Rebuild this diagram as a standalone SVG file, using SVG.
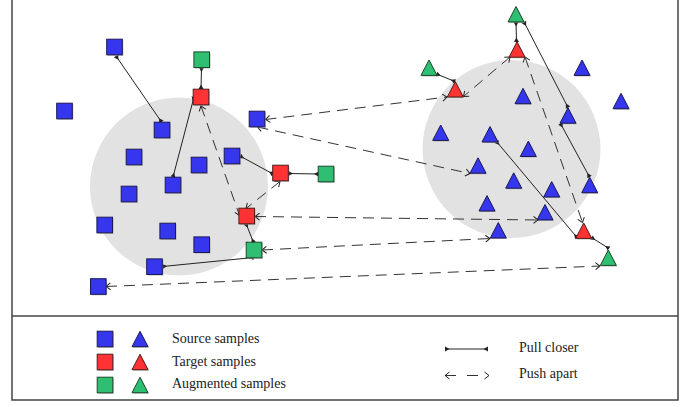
<svg xmlns="http://www.w3.org/2000/svg" xmlns:xlink="http://www.w3.org/1999/xlink" width="697" height="407" viewBox="0 0 697 407">
<style>
.frame{stroke:#444;stroke-width:1.5;fill:none}
.blob{fill:#e2e2e2}
.blue{fill:#3636ee;stroke:#1a1a55;stroke-width:1}
.red{fill:#ff3333;stroke:#551a1a;stroke-width:1}
.green{fill:#2fbf72;stroke:#1a4a2a;stroke-width:1}
.shadow{fill:#9a9a9a;opacity:0.7}
.pull{stroke:#222;stroke-width:1;fill:none;marker-start:url(#mpull);marker-end:url(#mpull)}
.push{stroke:#333;stroke-width:1;fill:none;stroke-dasharray:11 7;marker-start:url(#mpush);marker-end:url(#mpush)}
text{font-family:"Liberation Serif","Times New Roman",serif;font-size:14px;fill:#222}
</style>
<defs>
<marker id="mpull" markerUnits="userSpaceOnUse" markerWidth="10" markerHeight="10" viewBox="-6 -5 10 10" refX="0" refY="0" orient="auto-start-reverse" overflow="visible">
<path d="M0,-2.5 L-4.5,0 L0,2.5 z" fill="#222"/>
</marker>
<marker id="mpush" markerUnits="userSpaceOnUse" markerWidth="10" markerHeight="10" viewBox="-6 -5 10 10" refX="0" refY="0" orient="auto-start-reverse" overflow="visible">
<path d="M-4.5,-3.5 L0,0 L-4.5,3.5" fill="none" stroke="#222" stroke-width="1"/>
</marker>
<rect id="sq" x="-7.8" y="-7.8" width="15.6" height="15.6"/>
<polygon id="tri" points="0,-7.7 8,7.7 -8,7.7"/>
</defs>
<rect width="697" height="407" fill="#fff"/>
<g id="frame">
<path class="frame" d="M12,0 V400 H678 V0"/>
<path class="frame" d="M12,316 H678"/>
</g>
<circle class="blob" cx="179" cy="186.5" r="89"/>
<circle class="blob" cx="511.5" cy="149" r="89"/>
<g id="connectors">
<line class="pull" x1="116" y1="56" x2="161.5" y2="122"/>
<line class="pull" x1="201.5" y1="67.5" x2="201" y2="89"/>
<line class="pull" x1="194" y1="97" x2="173" y2="177"/>
<line class="pull" x1="240" y1="156" x2="273" y2="174"/>
<line class="pull" x1="288.5" y1="173.5" x2="318.5" y2="174"/>
<line class="pull" x1="246" y1="223.5" x2="253.5" y2="242.5"/>
<line class="pull" x1="253.5" y1="257.5" x2="162.5" y2="266.5"/>
<line class="pull" x1="516" y1="22" x2="516.5" y2="42"/>
<line class="pull" x1="436.5" y1="74" x2="455" y2="81.5"/>
<line class="pull" x1="524" y1="22" x2="568" y2="107.5"/>
<line class="pull" x1="560.5" y1="123.5" x2="589.5" y2="177"/>
<line class="pull" x1="496.5" y1="141.5" x2="577" y2="237.5"/>
<line class="pull" x1="591.5" y1="237.5" x2="609" y2="248.5"/>
<line class="push" x1="201" y1="106" x2="239.5" y2="215.5"/>
<line class="push" x1="280" y1="181.5" x2="246" y2="208.5"/>
<line class="push" x1="265.5" y1="119.5" x2="447" y2="97"/>
<line class="push" x1="257.5" y1="127" x2="470" y2="173.5"/>
<line class="push" x1="255" y1="216.5" x2="538" y2="220"/>
<line class="push" x1="262" y1="250" x2="490" y2="238.5"/>
<line class="push" x1="106" y1="286.5" x2="600" y2="266"/>
<line class="push" x1="510" y1="57" x2="463.5" y2="96.5"/>
<line class="push" x1="525" y1="57" x2="582.5" y2="222.5"/>
</g>
<g id="left-nodes">
<g id="L1" transform="translate(114.5,47)"><use href="#sq" class="shadow" x="1" y="1"/><use href="#sq" class="blue"/></g>
<g id="L2" transform="translate(201.7,59.7)"><use href="#sq" class="shadow" x="1" y="1"/><use href="#sq" class="green"/></g>
<g id="L3" transform="translate(201,97)"><use href="#sq" class="shadow" x="1" y="1"/><use href="#sq" class="red"/></g>
<g id="L4" transform="translate(64.5,111)"><use href="#sq" class="shadow" x="1" y="1"/><use href="#sq" class="blue"/></g>
<g id="L5" transform="translate(162,130)"><use href="#sq" class="shadow" x="1" y="1"/><use href="#sq" class="blue"/></g>
<g id="L6" transform="translate(257,119)"><use href="#sq" class="shadow" x="1" y="1"/><use href="#sq" class="blue"/></g>
<g id="L7" transform="translate(134,157)"><use href="#sq" class="shadow" x="1" y="1"/><use href="#sq" class="blue"/></g>
<g id="L8" transform="translate(199,165)"><use href="#sq" class="shadow" x="1" y="1"/><use href="#sq" class="blue"/></g>
<g id="L9" transform="translate(232,156)"><use href="#sq" class="shadow" x="1" y="1"/><use href="#sq" class="blue"/></g>
<g id="L10" transform="translate(280.5,173)"><use href="#sq" class="shadow" x="1" y="1"/><use href="#sq" class="red"/></g>
<g id="L11" transform="translate(326,174)"><use href="#sq" class="shadow" x="1" y="1"/><use href="#sq" class="green"/></g>
<g id="L12" transform="translate(173,185)"><use href="#sq" class="shadow" x="1" y="1"/><use href="#sq" class="blue"/></g>
<g id="L13" transform="translate(129,194)"><use href="#sq" class="shadow" x="1" y="1"/><use href="#sq" class="blue"/></g>
<g id="L14" transform="translate(246.7,216)"><use href="#sq" class="shadow" x="1" y="1"/><use href="#sq" class="red"/></g>
<g id="L15" transform="translate(104.7,225)"><use href="#sq" class="shadow" x="1" y="1"/><use href="#sq" class="blue"/></g>
<g id="L16" transform="translate(167.7,231)"><use href="#sq" class="shadow" x="1" y="1"/><use href="#sq" class="blue"/></g>
<g id="L17" transform="translate(201.7,244.7)"><use href="#sq" class="shadow" x="1" y="1"/><use href="#sq" class="blue"/></g>
<g id="L18" transform="translate(254,250)"><use href="#sq" class="shadow" x="1" y="1"/><use href="#sq" class="green"/></g>
<g id="L19" transform="translate(154.5,266.7)"><use href="#sq" class="shadow" x="1" y="1"/><use href="#sq" class="blue"/></g>
<g id="L20" transform="translate(98.3,286.5)"><use href="#sq" class="shadow" x="1" y="1"/><use href="#sq" class="blue"/></g>
</g>
<g id="right-nodes">
<g id="R1" transform="translate(516,14.2)"><use href="#tri" class="shadow" x="1" y="1"/><use href="#tri" class="green"/></g>
<g id="R2" transform="translate(517,49.5)"><use href="#tri" class="shadow" x="1" y="1"/><use href="#tri" class="red"/></g>
<g id="R3" transform="translate(429,67.7)"><use href="#tri" class="shadow" x="1" y="1"/><use href="#tri" class="green"/></g>
<g id="R4" transform="translate(455.3,89.3)"><use href="#tri" class="shadow" x="1" y="1"/><use href="#tri" class="red"/></g>
<g id="R5" transform="translate(582,67.7)"><use href="#tri" class="shadow" x="1" y="1"/><use href="#tri" class="blue"/></g>
<g id="R6" transform="translate(523,96)"><use href="#tri" class="shadow" x="1" y="1"/><use href="#tri" class="blue"/></g>
<g id="R7" transform="translate(621,101)"><use href="#tri" class="shadow" x="1" y="1"/><use href="#tri" class="blue"/></g>
<g id="R8" transform="translate(568,115.5)"><use href="#tri" class="shadow" x="1" y="1"/><use href="#tri" class="blue"/></g>
<g id="R9" transform="translate(440.7,132.7)"><use href="#tri" class="shadow" x="1" y="1"/><use href="#tri" class="blue"/></g>
<g id="R10" transform="translate(490,134.3)"><use href="#tri" class="shadow" x="1" y="1"/><use href="#tri" class="blue"/></g>
<g id="R11" transform="translate(528.3,148.8)"><use href="#tri" class="shadow" x="1" y="1"/><use href="#tri" class="blue"/></g>
<g id="R12" transform="translate(478,165.5)"><use href="#tri" class="shadow" x="1" y="1"/><use href="#tri" class="blue"/></g>
<g id="R13" transform="translate(513.7,180.5)"><use href="#tri" class="shadow" x="1" y="1"/><use href="#tri" class="blue"/></g>
<g id="R14" transform="translate(551.7,189.3)"><use href="#tri" class="shadow" x="1" y="1"/><use href="#tri" class="blue"/></g>
<g id="R15" transform="translate(589.7,185)"><use href="#tri" class="shadow" x="1" y="1"/><use href="#tri" class="blue"/></g>
<g id="R16" transform="translate(487,203.3)"><use href="#tri" class="shadow" x="1" y="1"/><use href="#tri" class="blue"/></g>
<g id="R17" transform="translate(545,212.2)"><use href="#tri" class="shadow" x="1" y="1"/><use href="#tri" class="blue"/></g>
<g id="R18" transform="translate(498.3,230.3)"><use href="#tri" class="shadow" x="1" y="1"/><use href="#tri" class="blue"/></g>
<g id="R19" transform="translate(583.7,230.7)"><use href="#tri" class="shadow" x="1" y="1"/><use href="#tri" class="red"/></g>
<g id="R20" transform="translate(608.3,257.7)"><use href="#tri" class="shadow" x="1" y="1"/><use href="#tri" class="green"/></g>
</g>
<g id="legend">
<g id="leg-source">
<use href="#sq" class="shadow" x="106" y="340"/><use href="#sq" class="blue" x="105" y="339"/>
<use href="#tri" class="shadow" x="141" y="340"/><use href="#tri" class="blue" x="140" y="339"/>
<text x="172" y="343">Source samples</text>
</g>
<g id="leg-target">
<use href="#sq" class="shadow" x="106" y="363"/><use href="#sq" class="red" x="105" y="362"/>
<use href="#tri" class="shadow" x="141" y="363"/><use href="#tri" class="red" x="140" y="362"/>
<text x="172" y="366">Target samples</text>
</g>
<g id="leg-aug">
<use href="#sq" class="shadow" x="106" y="386"/><use href="#sq" class="green" x="105" y="385"/>
<use href="#tri" class="shadow" x="141" y="386"/><use href="#tri" class="green" x="140" y="385"/>
<text x="172" y="388">Augmented samples</text>
</g>
<g id="leg-pull">
<line class="pull" x1="445" y1="349" x2="488" y2="349"/>
<text x="519" y="352">Pull closer</text>
</g>
<g id="leg-push">
<line class="push" x1="445" y1="375.5" x2="489" y2="375.5" style="stroke-dasharray:11 11 11 11"/>
<text x="519" y="378">Push apart</text>
</g>
</g>
</svg>
